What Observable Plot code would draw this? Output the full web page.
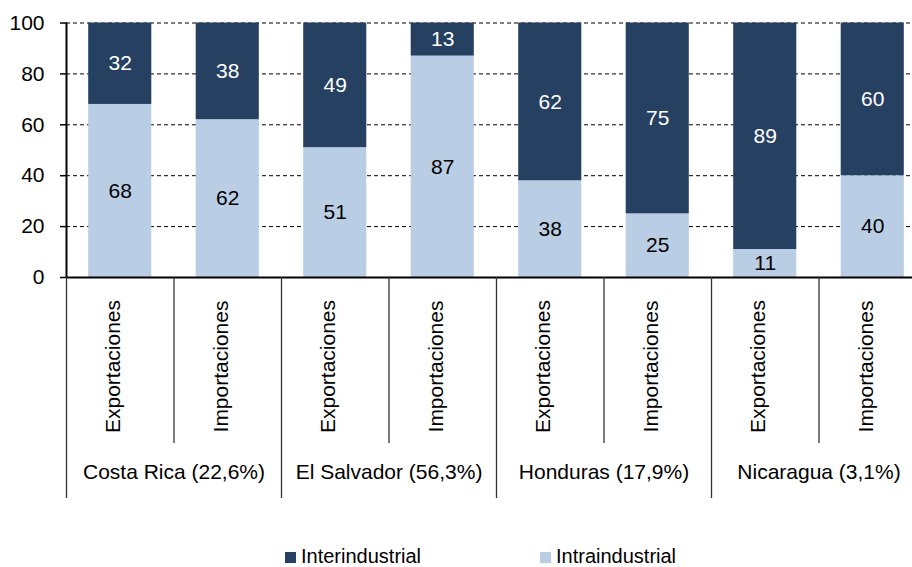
<!DOCTYPE html>
<html>
<head>
<meta charset="utf-8">
<script src="https://cdn.jsdelivr.net/npm/d3@7"></script>
<script src="https://cdn.jsdelivr.net/npm/@observablehq/plot@0.6"></script>
<style>
  html, body { margin: 0; padding: 0; background: #fff; overflow: hidden; }
  #wrap { position: relative; width: 912px; height: 567px; font-family: "Liberation Sans", Arial, sans-serif; }
  #legend { position: absolute; left: 0; top: 546px; width: 912px; height: 20px; font-size: 20px; line-height: 20px; color: #000; }
  .item { position: absolute; top: 0; height: 20px; display: flex; align-items: center; }
  .sw { width: 11px; height: 11px; margin-right: 5px; margin-top: 2px; }
</style>
</head>
<body>
<div id="wrap"><div id="chart"></div><div id="legend"></div></div>
<script>
const countries = ["Costa Rica (22,6%)", "El Salvador (56,3%)", "Honduras (17,9%)", "Nicaragua (3,1%)"];
const flows = ["Exportaciones", "Importaciones"];
const intraindustrial = [68, 62, 51, 87, 38, 25, 11, 40];
const interindustrial = [32, 38, 49, 13, 62, 75, 89, 60];
const seriesNames = ["Intraindustrial", "Interindustrial"];
const seriesColors = ["#B9CDE5", "#254061"];
const labelColors = ["#000000", "#ffffff"];
const yTicks = [0, 20, 40, 60, 80, 100];

// Build table: slot index i (0..7), flow name, series, value
const slots = [];
countries.forEach((c, ci) => flows.forEach((f, fi) => slots.push({i: ci * 2 + fi, country: c, flow: f})));
const rows = [];
slots.forEach(s => {
  rows.push({...s, type: seriesNames[0], value: intraindustrial[s.i]});
  rows.push({...s, type: seriesNames[1], value: interindustrial[s.i]});
});
const edges = d3.range(slots.length + 1);
const countryEdges = edges.filter(e => e % 2 === 0);
const innerEdges = edges.filter(e => e % 2 === 1);
const countryMids = countries.map((c, ci) => ({x: ci * 2 + 1, label: c}));

const H = 520;
const yBottom = 277;
const chart = Plot.plot({
  width: 912,
  height: H,
  marginTop: 22.5,
  marginBottom: H - yBottom,
  marginLeft: 66,
  marginRight: 0,
  style: {fontFamily: "'Liberation Sans', Arial, sans-serif", fontSize: "21px", background: "white", color: "#000"},
  x: {type: "linear", domain: [0, slots.length], range: [66, 926], axis: null},
  y: {domain: [0, 100], axis: null},
  color: {domain: seriesNames, range: seriesColors},
  marks: [
    Plot.gridY({ticks: yTicks.filter(t => t > 0), stroke: "#000", strokeOpacity: 1, strokeWidth: 1, strokeDasharray: "4,3"}),
    Plot.rectY(rows, {x1: d => d.i, x2: d => d.i + 1, y: "value", fill: "type", insetLeft: 22.2, insetRight: 22.2, order: seriesNames}),
    Plot.text(rows, Plot.stackY({x: d => d.i + 0.5, y: "value", z: "type", order: seriesNames, text: d => String(d.value),
      fill: d => labelColors[seriesNames.indexOf(d.type)], fontSize: 21})),
    Plot.axisY({ticks: yTicks, tickSize: 6, tickPadding: 16, tickFormat: d => String(d), label: null, fontSize: 21, stroke: "#000", strokeWidth: 1.5}),
    Plot.ruleX([0], {stroke: "#000", strokeWidth: 2}),
    Plot.ruleY([0], {stroke: "#000", strokeWidth: 2}),
    // category separators below the axis
    Plot.ruleX(countryEdges, {x: d => d, stroke: "#333", strokeWidth: 1.3, insetTop: yBottom - 22.5, insetBottom: -221}),
    Plot.ruleX(innerEdges, {x: d => d, stroke: "#333", strokeWidth: 1.3, insetTop: yBottom - 22.5, insetBottom: -166}),
    Plot.text(slots, {x: d => d.i + 0.5, text: "flow", frameAnchor: "bottom", rotate: -90, textAnchor: "middle", dy: 89, fontSize: 21, fill: "#000"}),
    Plot.text(countryMids, {x: "x", text: "label", frameAnchor: "bottom", dy: 201, fontSize: 21, fill: "#000"})
  ]
});
document.getElementById("chart").appendChild(chart);

const legend = document.getElementById("legend");
const legendItems = [{name: "Interindustrial", color: seriesColors[1], left: 285}, {name: "Intraindustrial", color: seriesColors[0], left: 540}];
legendItems.forEach(it => {
  const el = document.createElement("div");
  el.className = "item";
  el.style.left = it.left + "px";
  el.innerHTML = `<span class="sw" style="background:${it.color}"></span><span>${it.name}</span>`;
  legend.appendChild(el);
});
</script>
</body>
</html>
